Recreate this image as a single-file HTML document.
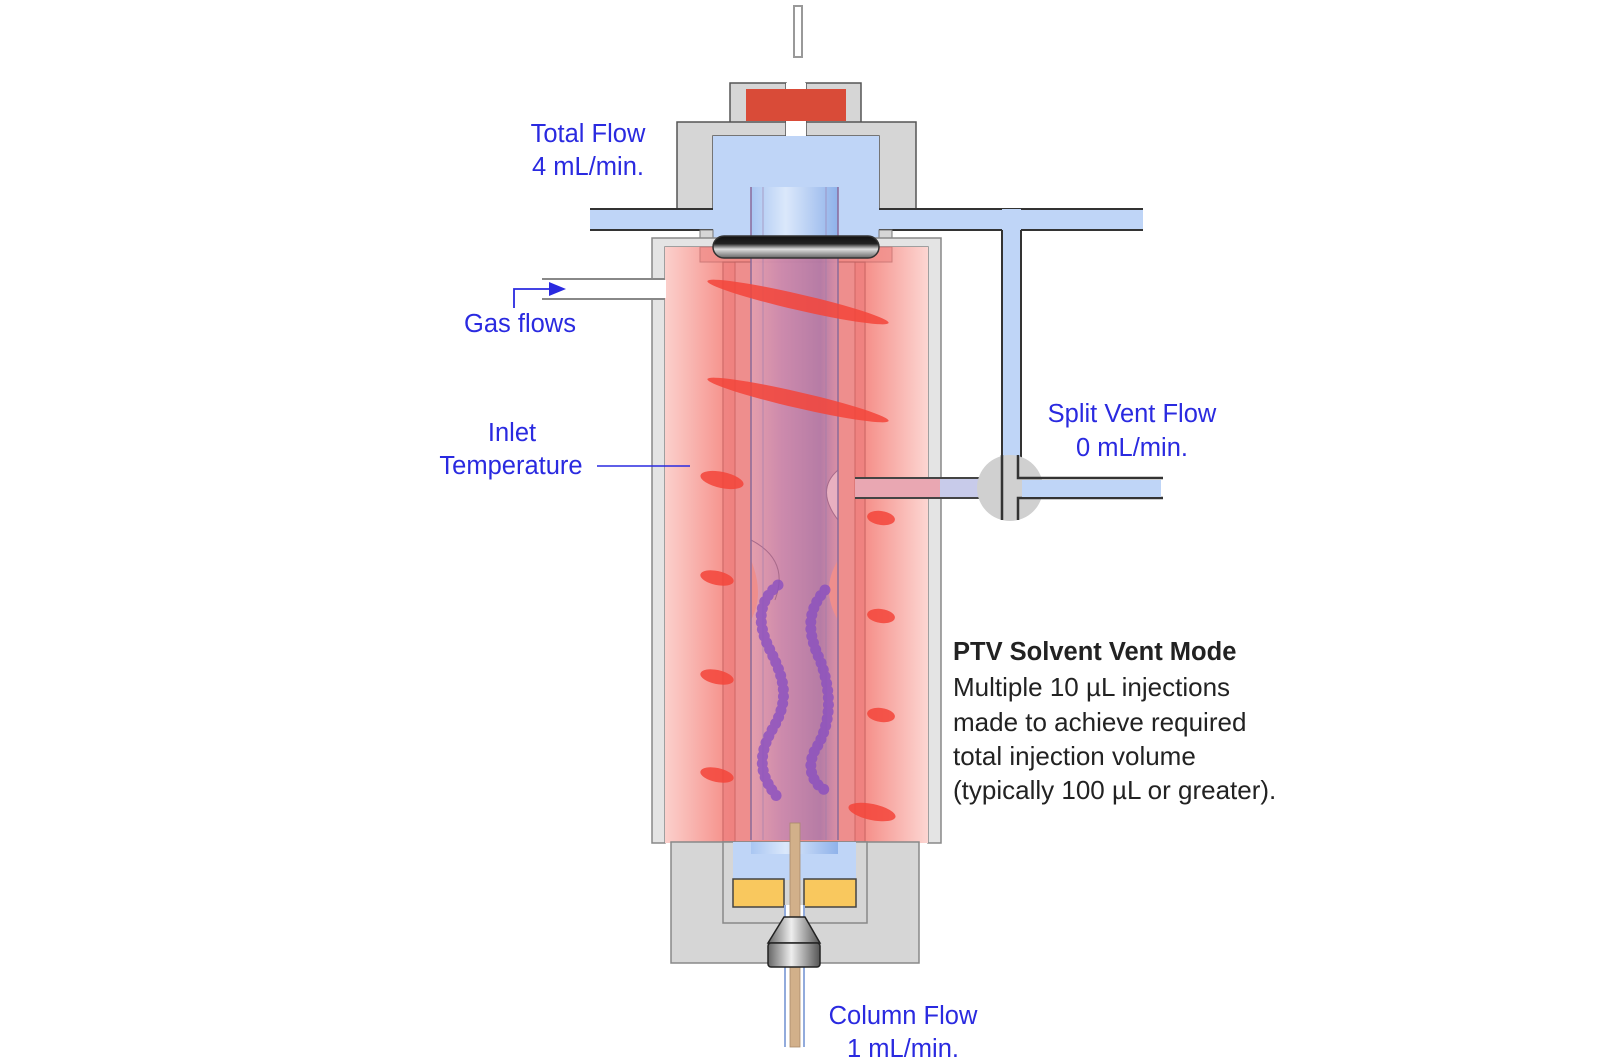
<!DOCTYPE html>
<html><head><meta charset="utf-8"><style>
html,body{margin:0;padding:0;background:#fff;}
svg{display:block;}
text{font-family:"Liberation Sans",Arial,sans-serif;}
</style></head><body>
<svg width="1600" height="1060" viewBox="0 0 1600 1060" xmlns="http://www.w3.org/2000/svg">
<defs>
<linearGradient id="oven" x1="0" x2="1">
<stop offset="0" stop-color="#fbd0cc"/><stop offset="0.25" stop-color="#f58c86"/><stop offset="0.5" stop-color="#f27d78"/><stop offset="0.75" stop-color="#f58c86"/><stop offset="1" stop-color="#fcd6d2"/>
</linearGradient>
<linearGradient id="liner" x1="0" x2="1">
<stop offset="0" stop-color="#e4a0b0"/><stop offset="0.35" stop-color="#c98ab0"/><stop offset="0.8" stop-color="#b07aa8"/><stop offset="1" stop-color="#d890a8"/>
</linearGradient>
<linearGradient id="linerTop" x1="0" x2="1">
<stop offset="0" stop-color="#a9c6f2"/><stop offset="0.4" stop-color="#dbe8fb"/><stop offset="1" stop-color="#8fb2ea"/>
</linearGradient>
<linearGradient id="oring" x1="0" y1="0" x2="0" y2="1">
<stop offset="0" stop-color="#111"/><stop offset="0.35" stop-color="#222"/><stop offset="0.6" stop-color="#ddd"/><stop offset="1" stop-color="#666"/>
</linearGradient>
<linearGradient id="ferr" x1="0" x2="1">
<stop offset="0" stop-color="#666"/><stop offset="0.45" stop-color="#eee"/><stop offset="1" stop-color="#555"/>
</linearGradient>
</defs>

<!-- needle -->
<rect x="794" y="6" width="8" height="51" fill="#fff" stroke="#999" stroke-width="2"/>

<!-- top cap -->
<path d="M730 83 H786 V123 H730 Z M806 83 H861 V123 H806 Z" fill="#d6d6d6" stroke="#555" stroke-width="1.5"/>
<rect x="746" y="89" width="100" height="32" fill="#d94b38"/>
<rect x="786" y="83" width="20" height="6" fill="#fff"/>
<!-- body -->
<path d="M677 122 H786 V136 H713 V209 H677 Z" fill="#d6d6d6" stroke="#555" stroke-width="1.5"/>
<path d="M916 122 H806 V136 H879 V209 H916 Z" fill="#d6d6d6" stroke="#555" stroke-width="1.5"/>
<rect x="786" y="121" width="20" height="15" fill="#fff"/>

<!-- split line horizontal -->
<rect x="590" y="209" width="553" height="21" fill="#bfd5f7"/>
<line x1="590" y1="209" x2="713" y2="209" stroke="#333" stroke-width="2"/>
<line x1="590" y1="230" x2="713" y2="230" stroke="#333" stroke-width="2"/>
<line x1="879" y1="209" x2="1143" y2="209" stroke="#333" stroke-width="2"/>
<line x1="879" y1="230" x2="1002" y2="230" stroke="#333" stroke-width="2"/>
<line x1="1021" y1="230" x2="1143" y2="230" stroke="#333" stroke-width="2"/>
<!-- vertical split tube -->
<rect x="1002" y="209" width="19" height="280" fill="#bfd5f7"/>
<line x1="1002" y1="230" x2="1002" y2="470" stroke="#333" stroke-width="2"/>
<line x1="1021" y1="230" x2="1021" y2="470" stroke="#333" stroke-width="2"/>

<!-- inner blue chamber -->
<rect x="713" y="136" width="166" height="120" fill="#bfd5f7"/>
<rect x="700" y="230" width="13" height="32" fill="#d6d6d6" stroke="#777" stroke-width="1"/>
<rect x="879" y="230" width="13" height="32" fill="#d6d6d6" stroke="#777" stroke-width="1"/>

<!-- outer jacket -->
<path d="M652 843 V238 H941 V843 H928 V247 H665 V843 Z" fill="#e4e4e4" stroke="#888" stroke-width="1.5"/>
<!-- gas inlet tube -->
<rect x="542" y="279" width="124" height="20" fill="#fff"/>
<line x1="542" y1="279" x2="666" y2="279" stroke="#888" stroke-width="2"/>
<line x1="542" y1="299" x2="666" y2="299" stroke="#888" stroke-width="2"/>

<!-- oven red -->
<rect x="665" y="247" width="263" height="596" fill="url(#oven)"/>
<rect x="542" y="280" width="124" height="18" fill="#fff"/>
<!-- inner tube walls -->
<rect x="723" y="262" width="142" height="581" fill="#ec7d7d" opacity="0.6" stroke="#c25a5a" stroke-width="1.5"/>
<rect x="735" y="262" width="120" height="581" fill="#ee9494" opacity="0.7" stroke="#c25a5a" stroke-width="1"/>
<rect x="700" y="247" width="192" height="15" fill="#f08c88" opacity="0.7" stroke="#b66" stroke-width="1"/>
<!-- split vent outlet from body -->
<rect x="855" y="478" width="155" height="20" fill="#e9a7b2"/>
<rect x="940" y="478" width="70" height="20" fill="#bfd5f7" opacity="0.8"/>
<line x1="855" y1="478" x2="1000" y2="478" stroke="#444" stroke-width="2"/>
<line x1="855" y1="498" x2="1000" y2="498" stroke="#444" stroke-width="2"/>

<!-- liner -->
<path d="M751 187 H838 V560 Q820 590 838 620 V840 H751 V620 Q765 595 751 560 Z" fill="url(#liner)" opacity="0.9"/>
<path d="M838 470 Q815 490 838 520" fill="#e8b0c0" stroke="#a86a8a" stroke-width="1"/>
<path d="M751 540 Q790 560 775 600" fill="none" stroke="#a86a8a" stroke-width="1"/>
<rect x="751" y="187" width="87" height="60" fill="url(#linerTop)"/>
<line x1="751" y1="187" x2="751" y2="840" stroke="#8a6a9a" stroke-width="1.5"/>
<line x1="838" y1="187" x2="838" y2="840" stroke="#8a6a9a" stroke-width="1.5"/>
<line x1="763" y1="187" x2="763" y2="840" stroke="#9a7aaa" stroke-width="1" opacity="0.6"/>
<line x1="826" y1="187" x2="826" y2="840" stroke="#9a7aaa" stroke-width="1" opacity="0.6"/>

<!-- O-ring -->
<rect x="713" y="236" width="166" height="22" rx="11" fill="url(#oring)" stroke="#333" stroke-width="1.5"/>

<!-- heater coils -->
<g fill="#f4453a" opacity="0.85">
<ellipse cx="798" cy="302" rx="93" ry="8" transform="rotate(13 798 302)"/>
<ellipse cx="798" cy="400" rx="93" ry="8" transform="rotate(13 798 400)"/>
<ellipse cx="722" cy="480" rx="22" ry="8" transform="rotate(12 722 480)"/>
<ellipse cx="717" cy="578" rx="17" ry="7" transform="rotate(12 717 578)"/>
<ellipse cx="717" cy="677" rx="17" ry="7" transform="rotate(12 717 677)"/>
<ellipse cx="717" cy="775" rx="17" ry="7" transform="rotate(12 717 775)"/>
<ellipse cx="881" cy="518" rx="14" ry="7" transform="rotate(8 881 518)"/>
<ellipse cx="881" cy="616" rx="14" ry="7" transform="rotate(8 881 616)"/>
<ellipse cx="881" cy="715" rx="14" ry="7" transform="rotate(8 881 715)"/>
<ellipse cx="872" cy="812" rx="24" ry="8" transform="rotate(12 872 812)"/>
</g>

<!-- purple beads -->
<g fill="none" stroke="#8a4fc0" stroke-width="11" stroke-linecap="round" stroke-dasharray="0.1 7" opacity="0.8">
<path d="M778 585 C760 600 755 620 770 650 C785 680 790 700 772 730 C755 760 762 780 780 800"/>
<path d="M825 590 C808 610 806 630 820 660 C835 700 828 730 815 750 C805 770 815 785 825 790"/>
</g>

<!-- valve -->
<circle cx="1010" cy="488" r="33" fill="#d0d0d0"/>
<rect x="1002" y="460" width="19" height="56" fill="#d0d0d0"/>
<line x1="1002" y1="455" x2="1002" y2="520" stroke="#333" stroke-width="2.5"/>
<path d="M1018 455 V478 H1163 M1018 520 V498 H1163" fill="none" stroke="#333" stroke-width="2.5"/>
<rect x="1022" y="480" width="139" height="17" fill="#bfd5f7"/>

<!-- bottom block -->
<rect x="671" y="842" width="248" height="121" fill="#d6d6d6" stroke="#888" stroke-width="1.5"/>
<rect x="723" y="842" width="144" height="81" fill="#d6d6d6" stroke="#888" stroke-width="1.5"/>
<rect x="733" y="842" width="123" height="38" fill="#bfd5f7"/>
<rect x="751" y="842" width="87" height="12" fill="url(#linerTop)"/>
<rect x="733" y="879" width="51" height="28" fill="#f9c85e" stroke="#444" stroke-width="1.5"/>
<rect x="804" y="879" width="52" height="28" fill="#f9c85e" stroke="#444" stroke-width="1.5"/>

<!-- column -->
<rect x="784" y="905" width="21" height="142" fill="#fff"/>
<line x1="785" y1="905" x2="785" y2="1047" stroke="#6f8fd0" stroke-width="1.5"/>
<line x1="804" y1="905" x2="804" y2="1047" stroke="#6f8fd0" stroke-width="1.5"/>
<rect x="790" y="823" width="10" height="224" fill="#d2b08a" stroke="#a88a6a" stroke-width="0.8"/>
<!-- ferrule -->
<path d="M784 917 H805 L820 943 H768 Z" fill="url(#ferr)" stroke="#222" stroke-width="1.5"/>
<rect x="768" y="943" width="52" height="24" rx="3" fill="url(#ferr)" stroke="#222" stroke-width="1.5"/>

<!-- labels -->
<g fill="#2a2ae0" font-size="25.5">
<text x="588" y="142" text-anchor="middle">Total Flow</text>
<text x="588" y="175" text-anchor="middle">4 mL/min.</text>
<text x="520" y="332" text-anchor="middle">Gas flows</text>
<text x="512" y="441" text-anchor="middle">Inlet</text>
<text x="511" y="474" text-anchor="middle">Temperature</text>
<text x="1132" y="422" text-anchor="middle">Split Vent Flow</text>
<text x="1132" y="456" text-anchor="middle">0 mL/min.</text>
<text x="903" y="1024" text-anchor="middle">Column Flow</text>
<text x="903" y="1057" text-anchor="middle">1 mL/min.</text>
</g>
<line x1="597" y1="466" x2="690" y2="466" stroke="#2a2ae0" stroke-width="1.5"/>
<path d="M514 308 V289 H552" fill="none" stroke="#2a2ae0" stroke-width="1.8"/>
<path d="M549 282 L566 289 L549 296 Z" fill="#2a2ae0"/>

<g fill="#222" font-size="26">
<text x="953" y="660" font-weight="bold" font-size="25.5">PTV Solvent Vent Mode</text>
<text x="953" y="696">Multiple 10 µL injections</text>
<text x="953" y="731">made to achieve required</text>
<text x="953" y="765">total injection volume</text>
<text x="953" y="799">(typically 100 µL or greater).</text>
</g>
</svg>
</body></html>
